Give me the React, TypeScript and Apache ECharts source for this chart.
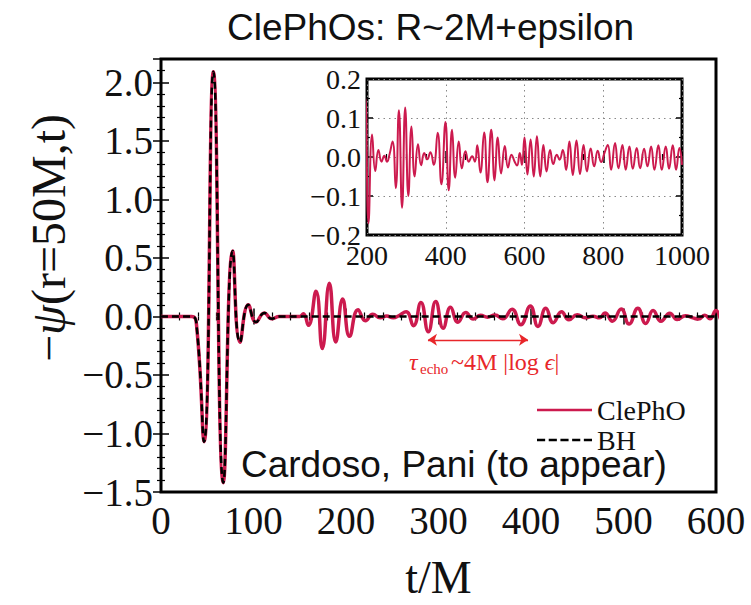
import React, { useEffect, useRef } from 'react';
import * as echarts from 'echarts';

// ---------- data ----------
// prompt ringdown, shared by both curves: [t/M, -psi]
const ringdown: [number, number][] = [
  [0, 0], [33, 0], [38.6, -0.09], [46.5, -1.07], [56.6, 2.09], [67.4, -1.42],
  [77.5, 0.56], [85.4, -0.22], [94.4, 0.1], [102.7, -0.048], [111.7, 0.03],
  [119.6, -0.02], [128, 0],
];
// ClePhO echoes
const echo1: [number, number][] = [
  [150, 0], [153.9, 0.023], [159.3, -0.076], [167.6, 0.215], [174.4, -0.274],
  [182, 0.283], [188.9, -0.218], [196.4, 0.15], [203.8, -0.17], [213, 0.058],
  [221, -0.036], [229, 0.018], [237, -0.012], [244, 0.003], [251, -0.012], [257, 0.006],
];
const echo2: [number, number][] = [
  [265, 0.04], [273, -0.08], [281, 0.12], [289, -0.13], [297, 0.127], [305, -0.1],
  [313, 0.078], [321, -0.05], [329.5, 0.033], [337.5, -0.021], [345.5, 0.01],
  [353, -0.006], [361, 0.012],
];
const echo3: [number, number][] = [
  [369.5, -0.02], [379.5, 0.062], [389, -0.07], [399.3, 0.09], [407.5, -0.085],
  [416, 0.07], [424, -0.053], [433, 0.04], [441, -0.029], [450, 0.015],
  [458.5, -0.012], [467, 0.002], [474, -0.012],
];
const echo4: [number, number][] = [
  [480, 0.03], [488, -0.04], [497.5, 0.063], [506, -0.065], [515.5, 0.07],
  [524, -0.06], [532, 0.05], [540.5, -0.042], [550, 0.028], [558, -0.027],
  [567, 0.006], [575, -0.012], [581, -0.022], [588, 0.01], [593.5, -0.02],
];
const echo5: [number, number][] = [
  [600, 0.05], [607.5, -0.045], [615.5, 0.045], [623.5, -0.05], [631.5, 0.053],
  [640, -0.05], [648, 0.031], [656, -0.037], [665, 0.018], [673, -0.018],
  [682, 0.006], [689, -0.007], [697.3, 0.018], [705.7, -0.033], [714, 0.04],
  [722.7, -0.046], [732, 0.042], [741, -0.044], [750, 0.031], [758.5, -0.037],
  [768, 0.022], [777, -0.024], [786, 0.016], [794.6, -0.013],
];
const lateTail: [number, number][] = [
  [803, 0.01], [811.5, 0.031], [820, -0.033], [830, 0.036], [838.6, -0.029],
  [848.7, 0.031], [857, -0.033], [866.5, 0.027], [875, -0.03], [885, 0.023],
  [893.6, -0.029], [903.7, 0.021], [912.2, -0.024], [921.5, 0.027], [930, -0.033],
  [940, 0.03], [948.6, -0.033], [958.7, 0.027], [967, -0.03], [976.5, 0.03],
  [985, -0.033], [993.4, 0.023], [1000, -0.02],
];
const bhTail: [number, number][] = [[600, 0]];

// echo-time annotation (t/M range and level)
const echoArrowT = [288.6, 396.8];
const echoArrowLevel = -0.2;

// axis ticks
const mainXTicks = { min: 0, max: 600, step: 100 };
const mainYTicks = { min: -1.5, max: 2.2, step: 0.5 };
const insetXTicks = { min: 200, max: 1000, step: 200 };
const insetYTicks = { min: -0.2, max: 0.2, step: 0.1 };

const seriesNames = ['ClePhO', 'BH'];

const clephoData = [...ringdown, ...echo1, ...echo2, ...echo3, ...echo4, ...echo5, ...lateTail];
const bhData = [...ringdown, ...bhTail];

const RED = '#cc1a4e';
const ANN = '#e8262a';
const SERIF = 'Liberation Serif, DejaVu Serif, serif';
const SANS = 'Liberation Sans, Arial, sans-serif';
const INK = '#111';

const fmt1 = (v: number) => {
  const r = Math.round(v * 10) / 10;
  if (Math.abs(r) < 1e-9) return '0.0';
  return r.toFixed(1).replace('-', '\u2212');
};

function frameAxis(opts: any) {
  const { gridIndex, position, min, max, interval, labels, fontSize, margin, minorSplit, fmt, z, split, majorLen, minorLen } = opts;
  return {
    type: 'value',
    gridIndex,
    position,
    min,
    max,
    interval,
    z,
    axisLine: { show: false },
    axisTick: { show: true, inside: true, length: majorLen, lineStyle: { color: '#000', width: 1.5 } },
    minorTick: { show: true, splitNumber: minorSplit, length: minorLen, lineStyle: { color: '#000', width: 1.2 } },
    splitLine: split
      ? { show: true, lineStyle: { color: '#888', width: 1, type: [1.5, 4] } }
      : { show: false },
    axisLabel: labels
      ? {
          show: true,
          fontSize,
          fontFamily: SERIF,
          color: INK,
          margin,
          formatter: fmt,
          showMaxLabel: opts.showMaxLabel !== false,
          showMinLabel: true,
        }
      : { show: false },
  };
}

export default function App() {
  const ref = useRef<HTMLDivElement>(null);

  useEffect(() => {
    if (!ref.current) return;
    const chart = echarts.init(ref.current, null, { renderer: 'svg' });

    const option: any = {
      animation: false,
      backgroundColor: '#fff',
      title: {
        text: 'ClePhOs: R~2M+epsilon',
        left: 222,
        top: 4,
        textStyle: { fontFamily: SANS, fontSize: 37, fontWeight: 'normal', color: INK },
      },
      grid: [
        { left: 161, top: 59, width: 555, height: 437, show: true, borderColor: '#000', borderWidth: 3, backgroundColor: 'transparent', z: 0 },
        { left: 367, top: 79, width: 315, height: 156, show: true, borderColor: '#000', borderWidth: 3, backgroundColor: '#fff', z: 5 },
      ],
      legend: {
        data: [
          { name: seriesNames[0], icon: 'path://M0 0H54V3H0Z' },
          { name: seriesNames[1], icon: 'path://M0 0H8V3H0Z M11.5 0H19.5V3H11.5Z M23 0H31V3H23Z M34.5 0H42.5V3H34.5Z M46 0H54V3H46Z' },
        ],
        orient: 'vertical',
        left: 537,
        top: 396,
        padding: 0,
        itemWidth: 55,
        itemHeight: 2.5,
        itemGap: 2,
        symbolKeepAspect: false,
        textStyle: { fontFamily: SERIF, fontSize: 28, color: INK },
        selectedMode: false,
      },
      xAxis: [
        {
          ...frameAxis({ gridIndex: 0, position: 'bottom', min: mainXTicks.min, max: mainXTicks.max, interval: mainXTicks.step, labels: true, fontSize: 39, margin: 9, minorSplit: 5, fmt: (v: number) => String(v), z: 1, majorLen: 8, minorLen: 4 }),
          name: 't/M',
          nameLocation: 'middle',
          nameGap: 62,
          nameTextStyle: { fontFamily: SERIF, fontSize: 46, color: INK },
        },
        frameAxis({ gridIndex: 0, position: 'top', min: mainXTicks.min, max: mainXTicks.max, interval: mainXTicks.step, labels: false, minorSplit: 5, z: 1, majorLen: 8, minorLen: 4 }),
        frameAxis({ gridIndex: 1, position: 'bottom', min: insetXTicks.min, max: insetXTicks.max, interval: insetXTicks.step, labels: true, fontSize: 28, margin: 6, minorSplit: 4, fmt: (v: number) => String(v), z: 6, split: true, majorLen: 6, minorLen: 3 }),
        frameAxis({ gridIndex: 1, position: 'top', min: insetXTicks.min, max: insetXTicks.max, interval: insetXTicks.step, labels: false, minorSplit: 4, z: 6, majorLen: 6, minorLen: 3 }),
      ],
      yAxis: [
        frameAxis({ gridIndex: 0, position: 'left', min: mainYTicks.min, max: mainYTicks.max, interval: mainYTicks.step, labels: true, fontSize: 39, margin: 8, minorSplit: 5, fmt: fmt1, z: 1, showMaxLabel: false, majorLen: 8, minorLen: 4 }),
        frameAxis({ gridIndex: 0, position: 'right', min: mainYTicks.min, max: mainYTicks.max, interval: mainYTicks.step, labels: false, minorSplit: 5, z: 1, majorLen: 8, minorLen: 4 }),
        frameAxis({ gridIndex: 1, position: 'left', min: insetYTicks.min, max: insetYTicks.max, interval: insetYTicks.step, labels: true, fontSize: 28, margin: 6, minorSplit: 2, fmt: fmt1, z: 6, split: true, majorLen: 6, minorLen: 3 }),
        frameAxis({ gridIndex: 1, position: 'right', min: insetYTicks.min, max: insetYTicks.max, interval: insetYTicks.step, labels: false, minorSplit: 2, z: 6, majorLen: 6, minorLen: 3 }),
      ],
      series: [
        {
          name: seriesNames[0],
          type: 'line',
          xAxisIndex: 0,
          yAxisIndex: 0,
          data: clephoData,
          smooth: 0.5,
          symbol: 'none',
          clip: true,
          lineStyle: { color: RED, width: 3.5 },
          itemStyle: { color: RED },
          emphasis: { disabled: true },
          z: 2,
          markLine: {
            silent: true,
            animation: false,
            symbol: ['arrow', 'arrow'],
            symbolSize: 9,
            label: { show: false },
            emphasis: { disabled: true },
            lineStyle: { color: ANN, width: 1.3, type: 'solid' },
            data: [[
              { coord: [echoArrowT[0], echoArrowLevel] },
              { coord: [echoArrowT[1], echoArrowLevel] },
            ]],
          },
        },
        {
          name: seriesNames[1],
          type: 'line',
          xAxisIndex: 0,
          yAxisIndex: 0,
          data: bhData,
          smooth: 0.5,
          symbol: 'none',
          clip: true,
          lineStyle: { color: '#000', width: 2.5, type: [7, 4] },
          itemStyle: { color: '#000' },
          emphasis: { disabled: true },
          z: 3,
        },
        {
          name: 'ClePhO (inset)',
          type: 'line',
          xAxisIndex: 2,
          yAxisIndex: 2,
          data: clephoData,
          smooth: 0.5,
          symbol: 'none',
          clip: true,
          lineStyle: { color: RED, width: 2 },
          itemStyle: { color: RED },
          emphasis: { disabled: true },
          z: 7,
        },
      ],
      graphic: [
        {
          type: 'text',
          x: 48,
          y: 238,
          rotation: Math.PI / 2,
          style: {
            text: '\u2212{it|\u03c8}(r=50M,t)',
            fontFamily: SERIF,
            fontSize: 48,
            fill: INK,
            textAlign: 'center',
            textVerticalAlign: 'middle',
            rich: { it: { fontFamily: SERIF, fontSize: 48, fontStyle: 'italic', fill: INK } },
          },
        },
        {
          type: 'text',
          x: 241,
          y: 464,
          style: {
            text: 'Cardoso, Pani (to appear)',
            fontFamily: SANS,
            fontSize: 37,
            fill: INK,
            textAlign: 'left',
            textVerticalAlign: 'middle',
          },
        },
        {
          type: 'text',
          x: 409,
          y: 362,
          style: { text: '\u03c4', fontFamily: SERIF, fontSize: 24, fontStyle: 'italic', fill: ANN, textAlign: 'left', textVerticalAlign: 'middle' },
        },
        {
          type: 'text',
          x: 420,
          y: 369,
          style: { text: 'echo', fontFamily: SERIF, fontSize: 15, fill: ANN, textAlign: 'left', textVerticalAlign: 'middle' },
        },
        {
          type: 'text',
          x: 451,
          y: 362,
          style: {
            text: '~4M |log {it|\u03f5}|',
            fontFamily: SERIF,
            fontSize: 24,
            fill: ANN,
            textAlign: 'left',
            textVerticalAlign: 'middle',
            rich: { it: { fontFamily: SERIF, fontSize: 24, fontStyle: 'italic', fill: ANN } },
          },
        },
      ],
    };

    chart.setOption(option);
    return () => chart.dispose();
  }, []);

  return (
    <div
      ref={ref}
      style={{ position: 'absolute', left: 0, top: 0, width: 751, height: 605, background: '#fff' }}
    />
  );
}
